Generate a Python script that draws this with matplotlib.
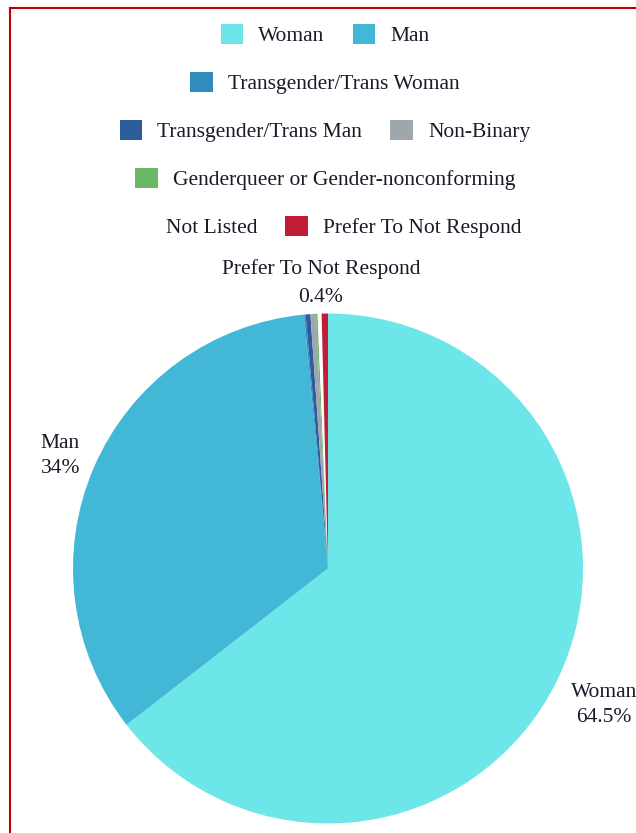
import matplotlib
matplotlib.use("Agg")
import matplotlib.pyplot as plt
from matplotlib.lines import Line2D
import numpy as np

categories = ["Woman", "Man", "Transgender/Trans Woman", "Transgender/Trans Man",
              "Non-Binary", "Genderqueer or Gender-nonconforming", "Not Listed",
              "Prefer To Not Respond"]
values = [64.5, 34.0, 0.1, 0.3, 0.35, 0.1, 0.25, 0.4]
colors = ["#6ce6e9", "#42b8d6", "#2f8cbd", "#2c5d9a", "#9ea7ab", "#6ab765",
          "#ffffff", "#c21d36"]
labelled = {"Woman": "Woman\n64.5%", "Man": "Man\n34%",
            "Prefer To Not Respond": "Prefer To Not Respond\n0.4%"}
legend_rows = [[0, 1], [2], [3, 4], [5], [6, 7]]

plt.rcParams['font.family'] = ['Liberation Serif', 'DejaVu Serif']
W, H = 636, 833
fig = plt.figure(figsize=(W / 100, H / 100), dpi=100)
fig.patch.set_facecolor("white")

cx, cy, R = 328, 568.5, 255
ax = fig.add_axes([(cx - R) / W, (H - cy - R) / H, 2 * R / W, 2 * R / H])
wedges, _ = ax.pie(values, colors=colors, startangle=90, counterclock=False,
                   radius=1, wedgeprops=dict(linewidth=0))
ax.set_xlim(-1, 1)
ax.set_ylim(-1, 1)
ax.set_aspect('equal')
ax.axis('off')

txtc = "#1a1a28"
fs = 15.5
for w, name in zip(wedges, categories):
    if name not in labelled:
        continue
    mid = np.deg2rad((w.theta1 + w.theta2) / 2)
    c, s = np.cos(mid), np.sin(mid)
    if abs(c) < 0.1:
        ax.text(c * 1.03 - 0.015, s * 1.024, labelled[name], ha='center', va='bottom',
                fontsize=fs, color=txtc, multialignment='center',
                linespacing=1.65, clip_on=False)
    else:
        r = 1.06
        ax.text(c * r, s * r - (0.07 if s < 0 else -0.02), labelled[name],
                ha='left' if c > 0 else 'right', va='center',
                fontsize=fs, color=txtc, multialignment='center',
                linespacing=1.4, clip_on=False)

row_y = [35, 83, 131, 179, 227]
for row, y in zip(legend_rows, row_y):
    leg = fig.legend([wedges[i] for i in row], [categories[i] for i in row],
                     loc='center', bbox_to_anchor=(0.511, 1 - y / H),
                     ncol=len(row), frameon=False, fontsize=fs,
                     handlelength=1.05, handleheight=1.05, handletextpad=0.7,
                     columnspacing=1.3, borderaxespad=0, borderpad=0)
    for t in leg.get_texts():
        t.set_color(txtc)

# red frame
fig.add_artist(Line2D([9.5 / W, 9.5 / W], [-0.01, 1 - 7.5 / H], color="#c00000",
                      lw=1.5, transform=fig.transFigure))
fig.add_artist(Line2D([9.5 / W, 1.01], [1 - 7.5 / H, 1 - 7.5 / H], color="#c00000",
                      lw=1.5, transform=fig.transFigure))

fig.savefig("out.png", dpi=100, facecolor="white")
